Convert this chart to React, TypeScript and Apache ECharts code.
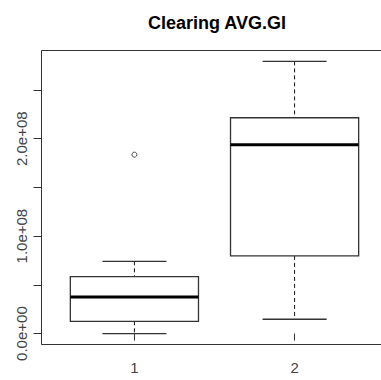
import React, { useEffect, useRef } from "react";
import * as echarts from "echarts";

const chartTitle = "Clearing AVG.GI";
const groups = [1, 2];
const lowerWhisker = [0, 1.47e7];
const q1 = [1.26e7, 7.97e7];
const median = [3.76e7, 1.938e8];
const q3 = [5.85e7, 2.215e8];
const upperWhisker = [7.42e7, 2.793e8];
const outliers: number[][] = [[1, 1.836e8]];
const yTicks = [0, 5e7, 1e8, 1.5e8, 2e8, 2.5e8];
const yLabels = [0, 1e8, 2e8];
const xTicks = [1, 2];

function fmt(v: number): string {
  const [m, e] = v.toExponential(1).split("e");
  const sign = e[0];
  const digits = e.slice(1).padStart(2, "0");
  return `${m}e${sign}${digits}`;
}

const FONT = "'Liberation Sans', Arial, sans-serif";

export default function App() {
  const ref = useRef<HTMLDivElement>(null);
  useEffect(() => {
    document.body.style.margin = "0";
    if (!ref.current) return;
    const chart = echarts.init(ref.current, undefined, { renderer: "svg" });
    const boxData = groups.map((g, i) => [g, lowerWhisker[i], q1[i], median[i], q3[i], upperWhisker[i]]);
    chart.setOption({
      animation: false,
      backgroundColor: "#fff",
      title: {
        text: chartTitle,
        left: 143,
        top: 9,
        textStyle: { fontFamily: FONT, fontSize: 18, fontWeight: "bold", color: "#000" },
      },
      grid: {
        left: 41.5,
        top: 50.5,
        width: 346,
        height: 294,
        outerBoundsMode: "none",
        containLabel: false,
        show: true,
        borderColor: "#333",
        borderWidth: 1,
        backgroundColor: "transparent",
      },
      xAxis: {
        type: "value",
        min: 0.42,
        max: 2.58,
        splitLine: { show: false },
        axisLine: { show: false },
        axisTick: { show: true, customValues: xTicks, length: 7, lineStyle: { color: "#333" } },
        axisLabel: {
          customValues: xTicks,
          margin: 15,
          fontFamily: FONT,
          fontSize: 15,
          color: "#444",
          formatter: (v: number) => String(v),
        },
      },
      yAxis: {
        type: "value",
        min: -1.12e7,
        max: 2.905e8,
        splitLine: { show: false },
        axisLine: { show: false },
        axisTick: { show: true, customValues: yTicks, length: 8, lineStyle: { color: "#333" } },
        axisLabel: {
          customValues: yLabels,
          rotate: 90,
          margin: 13,
          fontFamily: FONT,
          fontSize: 15,
          color: "#444",
          formatter: (v: number) => fmt(v),
        },
      },
      series: [
        {
          type: "custom",
          data: boxData,
          encode: { x: 0, y: [1, 2, 3, 4, 5] },
          renderItem: (params: any, api: any) => {
            const x = api.value(0);
            const lw = api.value(1);
            const b1 = api.value(2);
            const md = api.value(3);
            const b3 = api.value(4);
            const uw = api.value(5);
            const boxHalf = 0.4;
            const capHalf = 0.2;
            const tl = api.coord([x - boxHalf, b3]);
            const br = api.coord([x + boxHalf, b1]);
            const mL = api.coord([x - boxHalf, md]);
            const mR = api.coord([x + boxHalf, md]);
            const pUw = api.coord([x, uw]);
            const pLw = api.coord([x, lw]);
            const pQ3 = api.coord([x, b3]);
            const pQ1 = api.coord([x, b1]);
            const cx = pUw[0];
            const capL = api.coord([x - capHalf, uw]);
            const capR = api.coord([x + capHalf, uw]);
            const capL2 = api.coord([x - capHalf, lw]);
            const capR2 = api.coord([x + capHalf, lw]);
            const stroke = "#333";
            return {
              type: "group",
              children: [
                {
                  type: "line",
                  shape: { x1: cx, y1: pUw[1], x2: cx, y2: pQ3[1] },
                  style: { stroke: "#111", lineWidth: 1, lineDash: [4, 3] },
                },
                {
                  type: "line",
                  shape: { x1: cx, y1: pQ1[1], x2: cx, y2: pLw[1] },
                  style: { stroke: "#111", lineWidth: 1, lineDash: [4, 3] },
                },
                {
                  type: "line",
                  shape: { x1: capL[0], y1: capL[1], x2: capR[0], y2: capR[1] },
                  style: { stroke: stroke, lineWidth: 1.3 },
                },
                {
                  type: "line",
                  shape: { x1: capL2[0], y1: capL2[1], x2: capR2[0], y2: capR2[1] },
                  style: { stroke: stroke, lineWidth: 1.3 },
                },
                {
                  type: "rect",
                  shape: { x: tl[0], y: tl[1], width: br[0] - tl[0], height: br[1] - tl[1] },
                  style: { stroke: stroke, fill: "#fff", lineWidth: 1.3 },
                },
                {
                  type: "line",
                  shape: { x1: mL[0], y1: mL[1], x2: mR[0], y2: mR[1] },
                  style: { stroke: "#000", lineWidth: 3 },
                },
              ],
            };
          },
        },
        {
          type: "scatter",
          data: outliers,
          symbol: "circle",
          symbolSize: 5,
          itemStyle: { color: "#fff", borderColor: "#222", borderWidth: 1 },
        },
      ],
    });
    return () => chart.dispose();
  }, []);
  return <div ref={ref} style={{ width: 381, height: 380 }} />;
}
